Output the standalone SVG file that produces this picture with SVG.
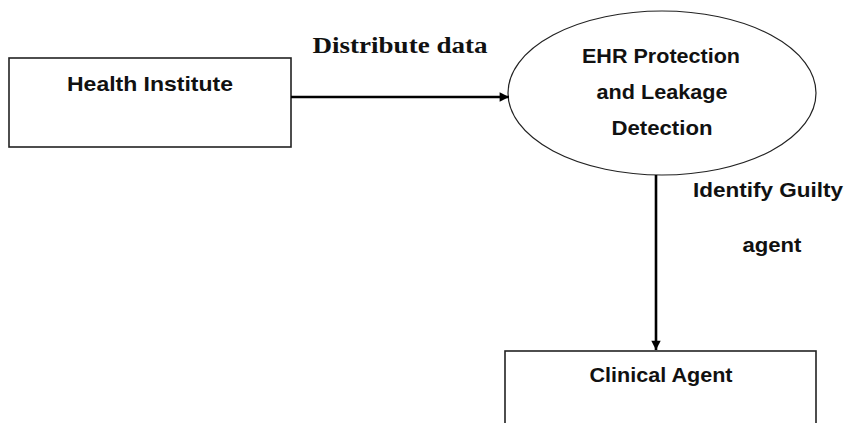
<svg xmlns="http://www.w3.org/2000/svg" width="846" height="423" viewBox="0 0 846 423">
<style>
.box{fill:#fff;stroke:#222;stroke-width:1.6}
.ell{fill:#fff;stroke:#222;stroke-width:1.2}
.lbl{font-family:"Liberation Sans",Arial,sans-serif;font-weight:bold;font-size:21px;fill:#111;text-anchor:middle}
.ser{font-family:"Liberation Serif","Times New Roman",serif;font-weight:bold;font-size:24px;fill:#111;text-anchor:middle}
.con{fill:none;stroke:#000;stroke-width:2.6}
</style>
<defs>
<marker id="arr" viewBox="0 0 10 10" refX="10" refY="5" markerWidth="4" markerHeight="3.6" orient="auto" markerUnits="strokeWidth">
<path d="M0,0 L10,5 L0,10 z" fill="#000"/>
</marker>
</defs>
<rect width="846" height="423" fill="#fff"/>
<g id="health-institute">
<rect class="box" x="9" y="58" width="282" height="89"/>
<text class="lbl" x="150" y="91" textLength="166" lengthAdjust="spacingAndGlyphs">Health Institute</text>
</g>
<g id="ehr-protection">
<ellipse class="ell" cx="662" cy="93" rx="154" ry="82"/>
<text class="lbl" x="661" y="63" textLength="158" lengthAdjust="spacingAndGlyphs">EHR Protection</text>
<text class="lbl" x="662" y="99" textLength="131" lengthAdjust="spacingAndGlyphs">and Leakage</text>
<text class="lbl" x="662" y="135" textLength="101" lengthAdjust="spacingAndGlyphs">Detection</text>
</g>
<g id="clinical-agent">
<rect class="box" x="505" y="351" width="311" height="80"/>
<text class="lbl" x="661" y="382" textLength="143" lengthAdjust="spacingAndGlyphs">Clinical Agent</text>
</g>
<g id="connectors">
<line class="con" x1="291" y1="97" x2="509" y2="97" marker-end="url(#arr)"/>
<text class="ser" x="400" y="53" textLength="175" lengthAdjust="spacingAndGlyphs">Distribute data</text>
<line class="con" x1="656" y1="175" x2="656" y2="350" marker-end="url(#arr)"/>
<text class="lbl" x="768" y="197" textLength="150" lengthAdjust="spacingAndGlyphs">Identify Guilty</text>
<text class="lbl" x="772" y="252" textLength="59" lengthAdjust="spacingAndGlyphs">agent</text>
</g>
</svg>
